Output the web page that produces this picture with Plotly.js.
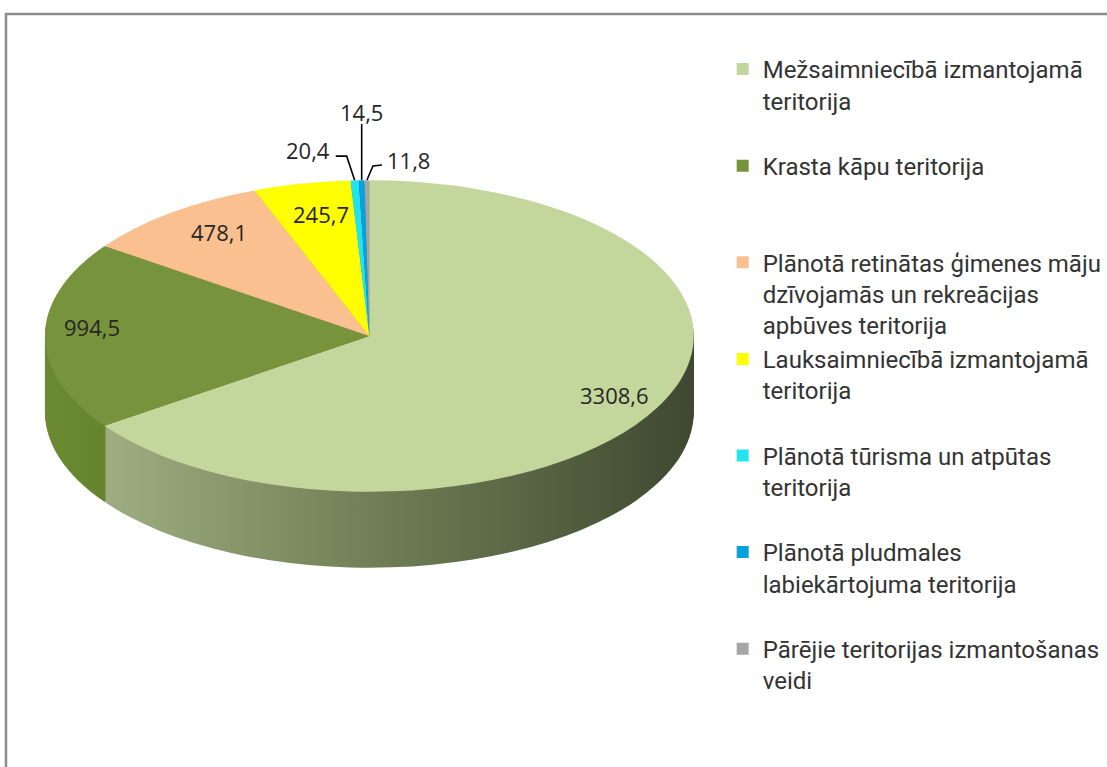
<!DOCTYPE html>
<html>
<head>
<meta charset="utf-8">
<script src="https://cdn.plot.ly/plotly-3.0.1.min.js"></script>
<style>
  html, body { margin: 0; padding: 0; background: #ffffff; }
  #chart { width: 1107px; height: 767px; }
</style>
</head>
<body>
<div id="chart"></div>
<script>
// ---------- data ----------
const categories = [
  "Mežsaimniecībā izmantojamā teritorija",
  "Krasta kāpu teritorija",
  "Plānotā retinātas ģimenes māju dzīvojamās un rekreācijas apbūves teritorija",
  "Lauksaimniecībā izmantojamā teritorija",
  "Plānotā tūrisma un atpūtas teritorija",
  "Plānotā pludmales labiekārtojuma teritorija",
  "Pārējie teritorijas izmantošanas veidi"
];
const legendLabels = [
  "Mežsaimniecībā izmantojamā<br>teritorija<br>&nbsp;",
  "Krasta kāpu teritorija<br>&nbsp;<br>&nbsp;",
  "Plānotā retinātas ģimenes māju<br>dzīvojamās un rekreācijas<br>apbūves teritorija",
  "Lauksaimniecībā izmantojamā<br>teritorija<br>&nbsp;",
  "Plānotā tūrisma un atpūtas<br>teritorija<br>&nbsp;",
  "Plānotā pludmales<br>labiekārtojuma teritorija<br>&nbsp;",
  "Pārējie teritorijas izmantošanas<br>veidi<br>&nbsp;"
];
const values = [3308.6, 994.5, 478.1, 245.7, 20.4, 14.5, 11.8];

// ---------- style ----------
const topColors  = ["#c3d69b", "#77933c", "#fac090", "#ffff00", "#22e4f0", "#0aa0dc", "#a6a6a6"];
const sideColors = ["#7d8c5e", "#5a7228", "#c08a60", "#b8b800", "#10a8b0", "#06709a", "#7a7a7a"];
const sideGradients = {
  0: [["0", "#aab98c"], ["0.45", "#76855a"], ["1", "#3f4830"]],
  1: [["0", "#6b8a30"], ["0.5", "#50672a"], ["1", "#3b4a1c"]]
};
const FONT = "'Open Sans', 'Noto Sans', sans-serif";
const LEGEND_FONT = "Roboto, 'Open Sans', sans-serif";
const W = 1107, H = 767;
const CX = 370, CY = 336, RX = 325, RY = 156, DEPTH = 76, STEP = 2;
const S = RY / RX;
const insideFrac = [0.85, 0.855, 0.76, 0.72];
const insideDy   = [-2, -9, -10, -12];

// pixel -> paper helpers
const px = x => x / W;
const py = y => 1 - y / H;

// ---------- traces ----------
const domain = { x: [px(CX - RX), px(CX + RX)], y: [py(CY + RX), py(CY - RX)] };
const traces = [];
for (let off = DEPTH; off > 0; off -= STEP) {
  traces.push({
    type: "pie", labels: legendLabels, values: values, sort: false,
    direction: "clockwise", rotation: 0, domain: domain,
    marker: { colors: sideColors, line: { width: 0 } },
    textinfo: "none", hoverinfo: "skip", showlegend: false,
    meta: { depth: off }
  });
}
traces.push({
  type: "pie", labels: legendLabels, values: values, sort: false,
  direction: "clockwise", rotation: 0, domain: domain,
  marker: { colors: topColors, line: { width: 0 } },
  textinfo: "none", hoverinfo: "label+value",
  customdata: categories,
  showlegend: true, meta: { depth: 0 }
});

// ---------- labels derived from slice angles ----------
const total = values.reduce((a, b) => a + b, 0);
let cum = 0;
const mids = values.map(v => { const m = (cum + v / 2) / total * 2 * Math.PI; cum += v; return m; });
const topPoint = (th, f) => [CX + RX * f * Math.sin(th), CY - RY * f * Math.cos(th)];
const fmt = v => v.toFixed(1).replace(".", ",");

const annotations = [];
const shapes = [];
for (let i = 0; i < 4; i++) {
  const p = topPoint(mids[i], insideFrac[i]);
  annotations.push({
    xref: "paper", yref: "paper", x: px(p[0]), y: py(p[1] + insideDy[i]),
    text: fmt(values[i]), showarrow: false, xanchor: "center", yanchor: "middle",
    font: { family: FONT, size: 22, color: "#262626" }
  });
}
// outside labels for the small slices, with elbow leader lines
const outside = [
  { i: 4, label: [-47, -30], path: [[0, 0], [-8, -24], [-19, -24]] },
  { i: 5, label: [0, -68],   path: [[0, 0], [0, -56]] },
  { i: 6, label: [42, -20],  path: [[0, 0], [6, -14], [15, -15]] }
];
outside.forEach(o => {
  const e = topPoint(mids[o.i], 1);
  annotations.push({
    xref: "paper", yref: "paper", x: px(e[0] + o.label[0]), y: py(e[1] + o.label[1]),
    text: fmt(values[o.i]), showarrow: false, xanchor: "center", yanchor: "middle",
    font: { family: FONT, size: 22, color: "#262626" }
  });
  const d = o.path.map((q, k) => (k ? "L" : "M") + px(e[0] + q[0]) + "," + py(e[1] + q[1])).join(" ");
  shapes.push({ type: "path", xref: "paper", yref: "paper", path: d,
    line: { color: "#000000", width: 1.6 } });
});
// chart frame (top and left border)
shapes.push({ type: "rect", xref: "paper", yref: "paper",
  x0: px(6), x1: 1.2, y0: -0.2, y1: py(14),
  line: { color: "#8c8c8c", width: 2.5 }, fillcolor: "rgba(0,0,0,0)", layer: "below" });

const layout = {
  width: W, height: H,
  margin: { l: 0, r: 0, t: 0, b: 0 },
  paper_bgcolor: "#ffffff",
  showlegend: true,
  legend: {
    x: px(724), xanchor: "left", y: py(47), yanchor: "top",
    font: { family: LEGEND_FONT, size: 24, color: "#333333" },
    valign: "top", traceorder: "normal", bgcolor: "rgba(0,0,0,0)"
  },
  annotations: annotations,
  shapes: shapes
};

Plotly.newPlot("chart", traces, layout, { displayModeBar: false, staticPlot: true }).then(gd => {
  const svg = gd.querySelector(".main-svg");
  let defs = svg.querySelector("defs");
  const NS = "http://www.w3.org/2000/svg";
  Object.keys(sideGradients).forEach(k => {
    const g = document.createElementNS(NS, "linearGradient");
    g.setAttribute("id", "sidegrad" + k);
    g.setAttribute("gradientUnits", "userSpaceOnUse");
    g.setAttribute("x1", CX - RX); g.setAttribute("x2", CX + RX);
    g.setAttribute("y1", 0); g.setAttribute("y2", 0);
    sideGradients[k].forEach(s => {
      const st = document.createElementNS(NS, "stop");
      st.setAttribute("offset", s[0]); st.setAttribute("stop-color", s[1]);
      g.appendChild(st);
    });
    defs.appendChild(g);
  });
  const groups = gd.querySelectorAll(".pielayer g.trace");
  groups.forEach((grp, idx) => {
    const off = traces[idx].meta.depth;
    const prev = grp.getAttribute("transform") || "";
    grp.setAttribute("transform",
      "translate(0," + (off + CY * (1 - S)) + ") scale(1," + S + ") " + prev);
    if (off > 0) {
      grp.querySelectorAll("g.slice").forEach((sl, si) => {
        if (sideGradients[si]) {
          const p = sl.querySelector("path.surface");
          if (p) p.style.fill = "url(#sidegrad" + si + ")";
        }
      });
    }
  });
});
</script>
</body>
</html>
